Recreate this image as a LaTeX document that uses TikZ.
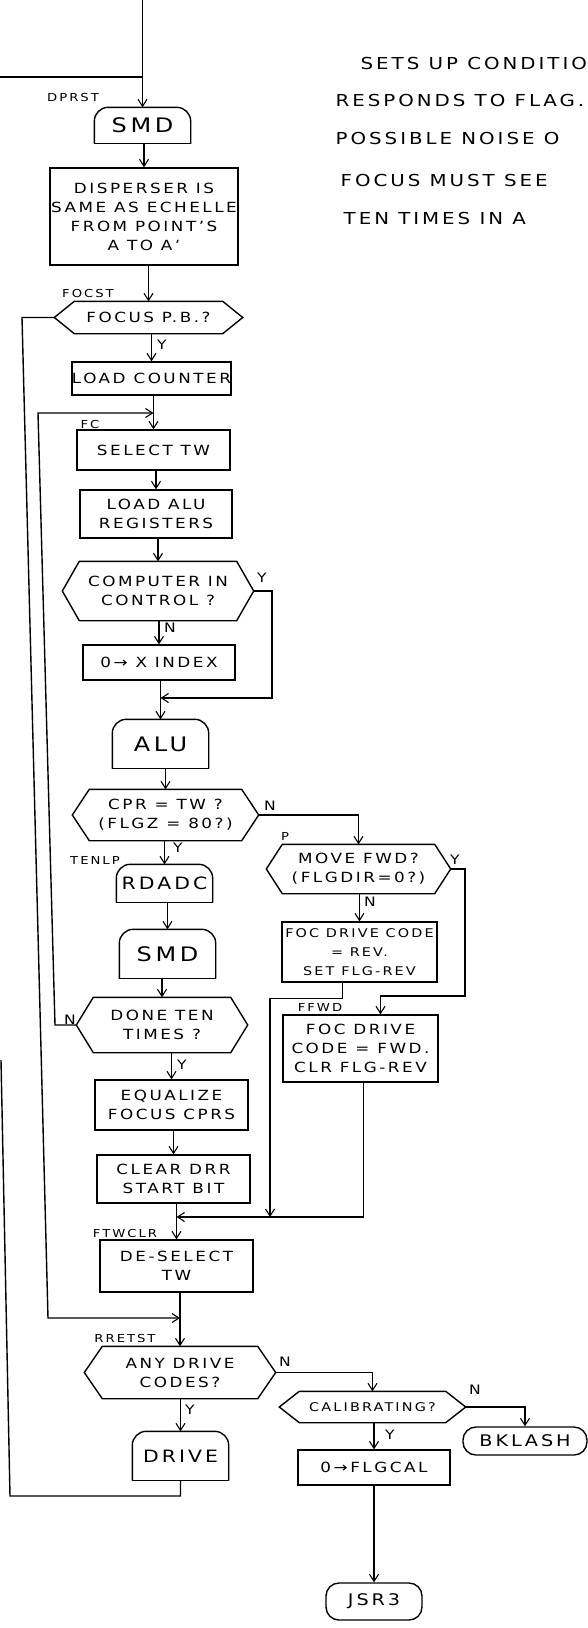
\documentclass[tikz,border=0pt]{standalone}
\usepackage{fontspec}
\setmainfont{DejaVu Sans}[FakeStretch=1.2,LetterSpace=18]
\usetikzlibrary{arrows.meta}
\tikzset{
  arr/.style={-{Straight Barb[length=7pt,width=9pt,line width=1.1pt]}},
  txt/.style={font=\fontsize{14}{19}\selectfont, align=center, inner sep=0pt},
  boxst/.style={txt, draw},
  domest/.style={txt, font=\fontsize{17}{20}\selectfont,
    append after command={\pgfextra{
      \draw[rounded corners=14pt] (\tikzlastnode.south west) -- (\tikzlastnode.north west) -- (\tikzlastnode.north east) -- (\tikzlastnode.south east);
      \draw (\tikzlastnode.south east) -- (\tikzlastnode.south west);}}},
  big/.style={font=\fontsize{20}{22}\selectfont},
  hexst/.style={txt,
    append after command={\pgfextra{
      \draw (\tikzlastnode.west) -- ([xshift=#1]\tikzlastnode.north west) -- ([xshift=-#1]\tikzlastnode.north east) -- (\tikzlastnode.east) -- ([xshift=-#1]\tikzlastnode.south east) -- ([xshift=#1]\tikzlastnode.south west) -- cycle;}}},
  termst/.style={txt, draw, rounded corners=13pt, font=\fontsize{16}{18}\selectfont},
  lab/.style={font=\fontsize{11}{12}\selectfont, inner sep=0pt},
  yn/.style={font=\fontsize{13}{13}\selectfont, inner sep=0pt},
  note/.style={font=\fontsize{16.5}{18}\selectfont, inner sep=0pt, anchor=west},
  small/.style={font=\fontsize{12}{19}\selectfont},
}
\begin{document}
\begin{tikzpicture}[x=1pt,y=-1pt,line width=1.4pt]
\useasboundingbox (0,0) rectangle (588,1628);

% main column
\node[domest, big, minimum width=95pt, minimum height=35pt] (smda) at (142.5,125.5) {SMD};
\node[boxst, minimum width=188pt, minimum height=97pt] (disp) at (144,216.5) {DISPERSER IS\\SAME AS ECHELLE\\FROM POINT'S\\A TO A'};
\node[hexst=20pt, minimum width=187pt, minimum height=31pt] (focus) at (148.5,317.5) {FOCUS P.B.?};
\node[boxst, minimum width=153pt, minimum height=33pt] (loadc) at (151.5,378.5) {LOAD COUNTER};
\node[boxst, minimum width=153pt, minimum height=40pt] (seltw) at (153.5,450) {SELECT TW};
\node[boxst, minimum width=152pt, minimum height=48pt] (alureg) at (156,514) {LOAD ALU\\REGISTERS};
\node[hexst=17pt, minimum width=190pt, minimum height=58pt] (comp) at (158,591) {COMPUTER IN\\CONTROL ?};
\node[boxst, minimum width=152pt, minimum height=35pt] (xind) at (159,662.5) {0→ X INDEX};
\node[domest, big, minimum width=95pt, minimum height=48pt] (alu) at (160.5,744) {ALU};
\node[hexst=17pt, minimum width=185pt, minimum height=50pt] (cpr) at (165.5,815) {CPR = TW ?\\(FLGZ = 80?)};
\node[domest, minimum width=95pt, minimum height=37pt] (rdadc) at (164.5,883.5) {RDADC};
\node[domest, big, minimum width=95pt, minimum height=48pt] (smdb) at (167.5,954) {SMD};
\node[hexst=17pt, minimum width=170pt, minimum height=54pt] (done) at (162,1025) {DONE TEN\\TIMES ?};
\node[boxst, minimum width=153pt, minimum height=50pt] (equ) at (171.5,1105) {EQUALIZE\\FOCUS CPRS};
\node[boxst, minimum width=153pt, minimum height=48pt] (clr) at (173.5,1179) {CLEAR DRR\\START BIT};
\node[boxst, minimum width=153pt, minimum height=52pt] (desel) at (176.5,1266) {DE-SELECT\\TW};
\node[hexst=18pt, minimum width=190pt, minimum height=51pt] (any) at (180,1372.5) {ANY DRIVE\\CODES?};
\node[domest, minimum width=95pt, minimum height=48pt] (drive) at (180.5,1456) {DRIVE};

% right column
\node[hexst=16pt, minimum width=183pt, minimum height=48pt] (move) at (358.5,869) {MOVE FWD?\\(FLGDIR=0?)};
\node[boxst, small, minimum width=155pt, minimum height=60pt] (rev) at (359.5,952) {FOC DRIVE CODE\\= REV.\\SET FLG-REV};
\node[boxst, minimum width=155pt, minimum height=67pt] (fwd) at (360.5,1048.5) {FOC DRIVE\\CODE = FWD.\\CLR FLG-REV};
\node[hexst=20pt, small, minimum width=185pt, minimum height=30pt] (cal) at (372.5,1407) {CALIBRATING?};
\node[termst, minimum width=124pt, minimum height=28pt] (bk) at (525,1441) {BKLASH};
\node[boxst, minimum width=152pt, minimum height=35pt] (flg) at (374,1467.5) {0→FLGCAL};
\node[termst, minimum width=96pt, minimum height=37pt] (jsr) at (374,1601.5) {JSR3};

% notes
\node[note] (n1) at (360,63) {SETS UP CONDITIO};
\node[note] (n2) at (335,100) {RESPONDS TO FLAG.};
\node[note] (n3) at (335,138) {POSSIBLE NOISE O};
\node[note] (n4) at (340,180) {FOCUS MUST SEE};
\node[note] (n5) at (343,218) {TEN TIMES IN A};

% entry labels
\node[lab] (l1) at (73,97) {DPRST};
\node[lab] (l2) at (88,293) {FOCST};
\node[lab] (l3) at (90,424) {FC};
\node[lab] (l4) at (95,860) {TENLP};
\node[lab] (l5) at (125,1233) {FTWCLR};
\node[lab] (l6) at (125,1338) {RRETST};
\node[lab] (l7) at (285,836) {P};
\node[lab] (l8) at (320,1007) {FFWD};

% Y/N labels
\node[yn] (y1) at (162,345) {Y};
\node[yn] (y2) at (262,578) {Y};
\node[yn] (y3) at (170,628) {N};
\node[yn] (y4) at (270,806) {N};
\node[yn] (y5) at (178,848) {Y};
\node[yn] (y6) at (455,860) {Y};
\node[yn] (y7) at (370,902) {N};
\node[yn] (y8) at (70,1020) {N};
\node[yn] (y9) at (182,1065) {Y};
\node[yn] (y10) at (285,1362) {N};
\node[yn] (y11) at (190,1410) {Y};
\node[yn] (y12) at (475,1390) {N};
\node[yn] (y13) at (390,1435) {Y};

% top entry
\coordinate (top) at (142.5,0);
\coordinate (ent) at (0,77);
\draw[arr] (top) -- (smda.north);
\draw (ent) -- (smda.north |- ent);

% main flow
\draw[arr] (disp.north |- smda.south) -- (disp.north);
\draw[arr] (focus.north |- disp.south) -- (focus.north);
\draw[arr] (loadc.north |- focus.south) -- (loadc.north);
\draw[arr] (seltw.north |- loadc.south) -- (seltw.north);
\draw[arr] (alureg.north |- seltw.south) -- (alureg.north);
\draw[arr] (comp.north |- alureg.south) -- (comp.north);
\draw[arr] (xind.north |- comp.south) -- (xind.north);
\draw[arr] (alu.north |- xind.south) -- (alu.north);
\draw[arr] (cpr.north |- alu.south) -- (cpr.north);
\draw[arr] (rdadc.north |- cpr.south) -- (rdadc.north);
\draw[arr] (smdb.north |- rdadc.south) -- (smdb.north);
\draw[arr] (done.north |- smdb.south) -- (done.north);
\draw[arr] (equ.north |- done.south) -- (equ.north);
\draw[arr] (clr.north |- equ.south) -- (clr.north);
\draw[arr] (desel.north |- clr.south) -- (desel.north);
\draw[arr] (any.north |- desel.south) -- (any.north);
\draw[arr] (drive.north |- any.south) -- (drive.north);

% computer in control Y bypass
\coordinate (cy1) at (272,591);
\coordinate (cy2) at (272,698);
\draw[arr] (comp.east) -- (cy1) -- (cy2) -- (alu.north |- cy2);

% FC loop from DONE TEN TIMES
\coordinate (d1) at (55,1025);
\coordinate (d2) at (38,413);
\draw[arr] (done.west) -- (d1) -- (d2) -- (seltw.north |- d2);

% FOCUS P.B. loop to RRETST
\coordinate (f1) at (22,317.5);
\coordinate (f2) at (48,1318);
\draw[arr] (focus.west) -- (f1) -- (f2) -- (any.north |- f2);

% right branch
\draw[arr] (cpr.east) -| (move.north);
\draw[arr] (rev.north |- move.south) -- (rev.north);
\coordinate (my1) at (465,869);
\coordinate (my2) at (465,996);
\draw[arr] (move.east) -- (my1) -- (my2) -| ([xshift=20pt]fwd.north);
\coordinate (mg) at (270,1217);
\draw[arr] ([xshift=-17pt]rev.south) -- ++(0,16) -| (mg);
\draw[arr] ([xshift=3pt]fwd.south) |- (desel.north |- mg);

% drive codes
\draw[arr] (any.east) -| (cal.north);
\draw[arr] (cal.east) -| (bk.north);
\draw[arr] (flg.north |- cal.south) -- (flg.north);
\draw[arr] (jsr.north |- flg.south) -- (jsr.north);

% drive loop
\coordinate (dl1) at (10,1496);
\coordinate (dl2) at (1,1060);
\draw (drive.south) -- (drive.south |- dl1) -- (dl1) -- (dl2);
\end{tikzpicture}
\end{document}
